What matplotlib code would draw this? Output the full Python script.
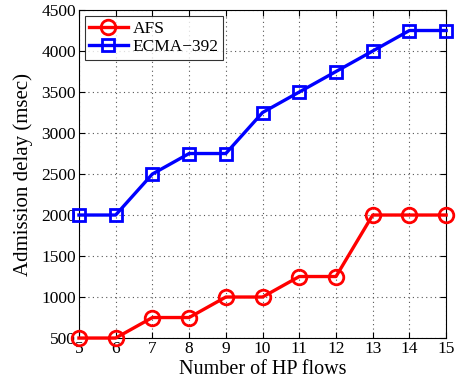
import matplotlib
matplotlib.use("Agg")
import matplotlib.pyplot as plt

plt.rcParams['font.family'] = ['Liberation Serif', 'DejaVu Serif']

hp_flows = [5, 6, 7, 8, 9, 10, 11, 12, 13, 14, 15]
afs_delay = [500, 500, 750, 750, 1000, 1000, 1250, 1250, 2000, 2000, 2000]
ecma_delay = [2000, 2000, 2500, 2750, 2750, 3250, 3500, 3750, 4000, 4250, 4250]

fig = plt.figure(figsize=(4.59, 3.85), dpi=100)
ax = fig.add_axes([0.172, 0.122, 0.8, 0.852])

ax.plot(hp_flows, afs_delay, color='red', lw=2.4, marker='o', ms=10.5,
        mfc='none', mew=2, label='AFS', clip_on=False, zorder=3)
ax.plot(hp_flows, ecma_delay, color='blue', lw=2.4, marker='s', ms=9,
        mfc='none', mew=2, label='ECMA\u2212392', clip_on=False, zorder=3)

ax.set_xlim(5, 15)
ax.set_ylim(500, 4500)
ax.set_xticks(range(5, 16))
ax.set_yticks(range(500, 4501, 500))
ax.tick_params(direction='in', top=True, right=True, labelsize=12.5, length=4, pad=2)
ax.grid(True, linestyle=(0, (1, 3)), color='#555555', lw=0.8)
for s in ax.spines.values():
    s.set_linewidth(0.8)

ax.set_xlabel('Number of HP flows', fontsize=14.5, labelpad=2)
ax.set_ylabel('Admission delay (msec)', fontsize=15, labelpad=6)

leg = ax.legend(loc='upper left', fontsize=12.5, frameon=True, fancybox=False,
                edgecolor='black', handlelength=2.2, borderpad=0.25,
                labelspacing=0.15, handletextpad=0.3, borderaxespad=0.35)
leg.get_frame().set_linewidth(0.8)

fig.savefig('out.png', dpi=100)
